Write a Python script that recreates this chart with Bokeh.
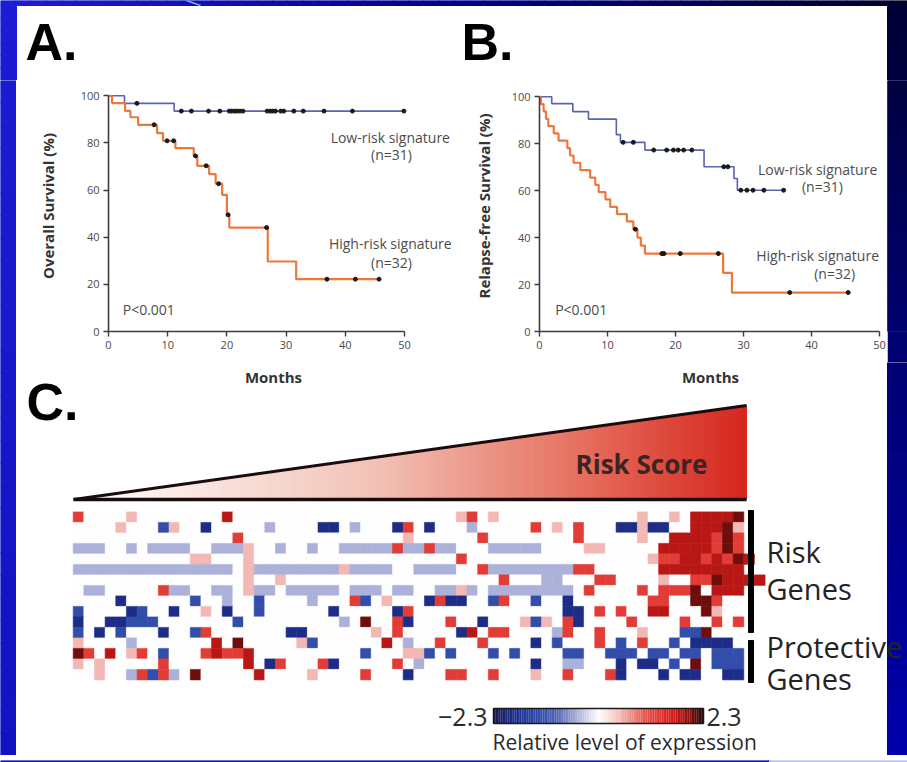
import numpy as np
from bokeh.plotting import figure
from bokeh.models import Range1d, FixedTicker, ColumnDataSource
from bokeh.layouts import row, column
from bokeh.embed import file_html
from bokeh.resources import INLINE
from bokeh.core.properties import value
from bokeh.transform import linear_cmap

# ---------------- data ----------------
month_ticks = [0, 10, 20, 30, 40, 50]
pct_ticks = [0, 20, 40, 60, 80, 100]

# Panel A: overall survival
a_low_t = [0, 2.7, 11.1, 49.9]
a_low_s = [100, 96.8, 93.5, 93.5]
a_low_cens = [4.8, 12.3, 14.0, 16.9, 18.8, 20.4, 20.8, 21.3, 21.7, 22.2, 22.7,
              26.8, 27.3, 27.7, 28.2, 29.1, 29.6, 31.3, 32.9, 36.4, 41.2, 49.9]
a_high_t = [0, 0.6, 2.8, 3.7, 5.0, 8.2, 9.2, 11.3, 14.4, 15.0, 17.0, 18.1, 19.2,
            20.0, 20.4, 26.9, 31.7, 45.7]
a_high_s = [100, 96.9, 93.6, 90.9, 87.7, 84.2, 80.9, 77.8, 74.5, 70.3, 66.8, 62.7,
            58.0, 49.5, 44.1, 29.7, 22.2, 22.2]
a_high_cens = [7.7, 9.9, 11.0, 14.7, 16.5, 18.6, 20.2, 26.7, 36.9, 41.7, 45.7]

# Panel B: relapse-free survival
b_low_t = [0, 1.8, 4.9, 7.2, 11.3, 11.9, 15.5, 24.2, 28.6, 29.1, 35.9]
b_low_s = [100, 97.1, 93.7, 90.5, 83.9, 80.6, 77.3, 70.2, 65.2, 60.2, 60.2]
b_low_cens = [12.3, 13.8, 16.8, 18.7, 19.7, 20.4, 21.2, 22.4, 27.1, 27.7,
              29.6, 30.5, 31.4, 33.0, 35.9]
b_high_t = [0, 0.2, 0.6, 0.95, 1.3, 2.1, 2.8, 4.1, 4.5, 5.0, 6.0, 7.45, 8.2, 8.7,
            9.7, 10.4, 11.4, 12.85, 13.8, 14.4, 14.9, 15.5, 27.0, 28.3, 45.4]
b_high_s = [100, 96.9, 93.8, 90.6, 87.5, 84.4, 81.3, 78.1, 75.0, 71.9, 68.8, 65.6,
            62.5, 59.4, 56.3, 53.1, 50.0, 46.9, 43.6, 40.0, 36.6, 33.2, 25.0, 16.6, 16.6]
b_high_cens = [14.1, 18.0, 18.3, 20.7, 26.3, 36.8, 45.4]

# Panel C: heatmap, 16 genes x 63 patients (B/b/l = blue levels, . = white,
# p/r/R/K = red levels)
heat_rows = [
    "r....p........R.....................pr.p.............p..p.RRRRK",
    "....p...bp..B.....l....BB.l...Br.B...l.....r.p.r...BBpBB..RRRKp",
    "...............r...............p......r........r.....p..RRRRrKr",
    "lll..l.llll..lllp..l..l..lllllrllrll...lllll....pp.....RRRRRrKr",
    "...........pp...p...................r.................prrRRrRrKR",
    "lllllllllllllll.pllllllllpllll..llll..rllllllllrr......RRRRRRRR",
    "................p..p....................r...ll...rr....p..rrKRRRR",
    ".ll.....rll..ll.pll.lllll.lll.ll..llpl.llllllll.r....r.rrrK.RRR",
    "....B......b..l..b....l...rb.p...BrBB..br..b..B.......rr..KKr..",
    "b....Bb..B..p.B..b......B.....Br..............BB.r.r..RR...Kp..",
    "B..BBbbb.......b.........l.K..rB...r..B...pbp.rB....r....r..r.r",
    "b.B.b...B..br.......BB......p.r.....BR.rr....lr..r...p...bbK...",
    "p....l.......R.K.....pb......R.l..r...r....B.b...r.b.r..b.BBBB.",
    "Kr.R.pr.b...rRrrR..........b...ppb.b...b.b....bb..bbb.bb.bb.bbb",
    "p.p.....r.......R.Br...rB.....r.l..........B..ll...B.BB.b.K.bbb",
    "..p..lrbrl.K.....R....p....r...B...rr..r...p..r...rB...B.BB..BB",
]
level_of = {"B": -1.9, "b": -1.3, "l": -0.45, ".": 0.0,
            "p": 0.5, "r": 1.3, "R": 1.8, "K": 2.1}
expr_low, expr_high = -2.3, 2.3

# ---------------- helpers ----------------
def hex2rgb(h):
    return tuple(int(h[i:i + 2], 16) for i in (1, 3, 5))

def blend(stops, t):
    for (p0, c0), (p1, c1) in zip(stops[:-1], stops[1:]):
        if t <= p1:
            u = 0 if p1 == p0 else (t - p0) / (p1 - p0)
            a, b = hex2rgb(c0), hex2rgb(c1)
            return "#%02x%02x%02x" % tuple(round(a[k] + (b[k] - a[k]) * u) for k in range(3))
    return stops[-1][1]

heat_stops = [(0.0, "#1a1a50"), (0.1, "#1e3090"), (0.2, "#2d48a8"), (0.3, "#5566b5"),
              (0.42, "#bcc0e0"), (0.5, "#ffffff"), (0.59, "#f5c6c4"),
              (0.72, "#e65a50"), (0.85, "#dc201c"), (0.93, "#9a1010"), (1.0, "#2a0808")]
palette = [blend(heat_stops, i / 255) for i in range(256)]

def step_level(ts, ss, c):
    i = int(np.searchsorted(ts, c, side="right")) - 1
    return ss[max(i, 0)]

FONT = "Open Sans"
AX = "#3c3c3c"

def plain(width, height, xr, yr, bg="white"):
    p = figure(width=width, height=height, x_range=Range1d(*xr), y_range=Range1d(*yr),
               output_backend="svg", toolbar_location=None, min_border=0,
               x_axis_type=None, y_axis_type=None, outline_line_color=None,
               background_fill_color=bg, border_fill_color=bg)
    p.grid.visible = False
    return p

def vgrad(p, left, right, top, bottom, colorfn, n=30):
    ys = np.linspace(top, bottom, n + 1)
    p.quad(left=left, right=right, top=ys[:-1], bottom=ys[1:],
           color=[colorfn((ys[i] + ys[i + 1]) / 2) for i in range(n)])

# slide background colours (functions of screen y)
right_stops = [(0.0, "#000034"), (0.45, "#000070"), (1.0, "#0000ae")]
left_stops = [(0.0, "#1c1cd4"), (1.0, "#1212c2")]
top_stops = [(0.0, "#1c1cd4"), (0.5, "#000090"), (1.0, "#00002c")]
right_color = lambda y: blend(right_stops, y / 762)
left_color = lambda y: blend(left_stops, y / 762)

def km_figure(width, left, x_end, y_end):
    p = figure(width=width, height=282, x_range=Range1d(0, x_end), y_range=Range1d(0, y_end),
               output_backend="svg", toolbar_location=None,
               min_border_left=left, min_border_right=0, min_border_top=0,
               min_border_bottom=31, background_fill_color="white",
               border_fill_color="white")
    p.grid.visible = False
    p.outline_line_color = None
    p.xaxis.ticker = FixedTicker(ticks=month_ticks)
    p.yaxis.ticker = FixedTicker(ticks=pct_ticks)
    p.xaxis.bounds = (0, 50)
    p.yaxis.bounds = (0, 100)
    p.axis.axis_line_color = AX
    p.axis.axis_line_width = 1.6
    p.axis.major_tick_line_color = AX
    p.axis.major_tick_line_width = 1.4
    p.axis.major_tick_in = 0
    p.axis.major_tick_out = 5
    p.axis.minor_tick_line_color = None
    p.axis.major_label_text_font = FONT
    p.axis.major_label_text_font_size = "11px"
    p.axis.major_label_text_color = "#4a4a4a"
    p.axis.major_label_standoff = 4
    p.axis.axis_label_text_font = FONT
    p.axis.axis_label_text_font_style = "bold"
    p.axis.axis_label_text_font_size = "15px"
    p.axis.axis_label_text_color = "#333333"
    return p

def km_curves(p, lt, ls, lc, ht, hs, hc):
    p.step(x=lt, y=ls, mode="after", line_color="#5864b0", line_width=1.6)
    p.step(x=ht, y=hs, mode="after", line_color="#ec783c", line_width=2.2)
    p.scatter(x=lc, y=[step_level(lt, ls, c) for c in lc], size=4, color="#1a1a1a")
    p.scatter(x=hc, y=[step_level(ht, hs, c) for c in hc], size=4, color="#1a1a1a")

def note(p, x, y, txt, align="center"):
    p.text(x=[x], y=[y], text=[txt], text_align=align, text_baseline="middle",
           text_font=value(FONT), text_font_size="14px", text_color="#4d4d4d")

def big_letter(p, x, y, txt):
    p.text(x=[x], y=[y], text=[txt], text_align="left", text_baseline="middle",
           text_font=value("Liberation Sans"), text_font_style="bold",
           text_font_size="52px", text_color="black")

# ---------------- top band with letters A., B. ----------------
pTop = plain(907, 80, (0, 907), (80, 0))
nt = 60
xs_t = np.linspace(0, 907, nt + 1)
pTop.quad(left=xs_t[:-1], right=xs_t[1:], top=0, bottom=5,
          color=[blend(top_stops, (i + 0.5) / nt) for i in range(nt)])
pTop.line(x=[186, 200], y=[0, 5], line_color="#7fa8ff", line_width=1.5)
vgrad(pTop, 0, 16, 5, 80, left_color, n=6)
vgrad(pTop, 887, 907, 5, 80, right_color, n=6)
big_letter(pTop, 25, 41, "A.")
big_letter(pTop, 461, 41, "B.")

pBot = plain(907, 7, (0, 907), (762, 755))
pBot.quad(left=0, right=769, top=755, bottom=762, color="#1515c0")
pBot.quad(left=769, right=907, top=755, bottom=762, color="#b8c2ee")

pL = plain(16, 675, (0, 16), (755, 80))
vgrad(pL, 0, 16, 80, 755, left_color)

# ---------------- panel A ----------------
pA = km_figure(442, 92, 59.12, 106.49)
pA.yaxis.axis_label = "Overall Survival (%)"
pA.yaxis.axis_label_standoff = 20
km_curves(pA, a_low_t, a_low_s, a_low_cens, a_high_t, a_high_s, a_high_cens)
note(pA, 47.6, 82.3, "Low-risk signature")
note(pA, 47.8, 75.1, "(n=31)")
note(pA, 47.6, 37.3, "High-risk signature")
note(pA, 47.8, 29.3, "(n=32)")
note(pA, 2.4, 9.3, "P<0.001", "left")

# ---------------- panel B ----------------
pB = km_figure(429, 81, 51.18, 106.95)
pB.yaxis.axis_label = "Relapse-free Survival (%)"
pB.yaxis.axis_label_standoff = 15
km_curves(pB, b_low_t, b_low_s, b_low_cens, b_high_t, b_high_s, b_high_cens)
note(pB, 40.9, 69.0, "Low-risk signature")
note(pB, 41.6, 61.8, "(n=31)")
note(pB, 40.9, 32.4, "High-risk signature")
note(pB, 43.4, 24.7, "(n=32)")
note(pB, 2.3, 9.4, "P<0.001", "left")

# right edge beside the survival plots
pR = plain(20, 282, (887, 907), (331, 80), bg=right_color(346))
vgrad(pR, 887, 907, 80, 331, right_color, n=15)

# ---------------- panel C ----------------
pC = plain(891, 393, (16, 907), (755, 362))
vgrad(pC, 887, 907, 362, 755, right_color)

# x-axis titles of the survival plots (sit in this strip of the page)
for xc in (273, 710):
    pC.text(x=[xc], y=[376], text=["Months"], text_align="center", text_baseline="middle",
            text_font=value(FONT), text_font_style="bold", text_font_size="15px",
            text_color="#333333")

big_letter(pC, 26, 401, "C.")

# risk-score wedge with gradient
tri_l, tri_r, tri_base, tri_top = 73, 746, 499, 405
wedge_stops = [(0.0, "#ffffff"), (0.45, "#f2c2b6"), (0.75, "#e6705f"), (1.0, "#d6261e")]
nw = 140
xs_w = np.linspace(tri_l, tri_r, nw + 1)
top_at = lambda x: tri_base - (tri_base - tri_top) * (x - tri_l) / (tri_r - tri_l)
pC.patches(xs=[[xs_w[i], xs_w[i + 1], xs_w[i + 1], xs_w[i]] for i in range(nw)],
           ys=[[tri_base, tri_base, top_at(xs_w[i + 1]), top_at(xs_w[i])] for i in range(nw)],
           color=[blend(wedge_stops, (i + 0.5) / nw) for i in range(nw)])
pC.line(x=[tri_l, tri_r], y=[tri_base, tri_top], line_color="#1a0c0c", line_width=3)
pC.line(x=[tri_l, tri_r], y=[tri_base, tri_base], line_color="#1a0c0c", line_width=3.5)
pC.text(x=[641], y=[463], text=["Risk Score"], text_align="center", text_baseline="middle",
        text_font=value(FONT), text_font_style="bold", text_font_size="26px",
        text_color="#3a2424")

# heatmap (own scales: column / row index)
heat_left, heat_right, heat_top, heat_bottom = 72.7, 743.3, 511.4, 679.4
ncol, nrow = len(heat_rows[0]), len(heat_rows)
cw = (heat_right - heat_left) / ncol
rh = (heat_bottom - heat_top) / nrow
pC.extra_x_ranges = {"hx": Range1d((16 - heat_left) / cw, (907 - heat_left) / cw)}
pC.extra_y_ranges = {"hy": Range1d((755 - heat_top) / rh, (362 - heat_top) / rh)}
hc, hr, hv = [], [], []
for r, s in enumerate(heat_rows):
    for c, ch in enumerate(s):
        hc.append(c + 0.5)
        hr.append(r + 0.5)
        hv.append(level_of[ch])
hsrc = ColumnDataSource(dict(col=hc, row=hr, val=hv))
cmap = linear_cmap("val", palette, expr_low, expr_high)
pC.rect(x="col", y="row", width=1, height=1, source=hsrc, fill_color=cmap,
        line_color=cmap, line_width=0.6, x_range_name="hx", y_range_name="hy")

# gene-group bars and labels
pC.quad(left=748, right=753, top=510, bottom=632, color="black")
pC.quad(left=748, right=753, top=640, bottom=682, color="black")
for txt, yc in (("Risk", 551), ("Genes", 588), ("Protective", 646), ("Genes", 678)):
    pC.text(x=[766], y=[yc], text=[txt], text_font=value(FONT), text_font_size="29px",
            text_color="#232323", text_baseline="middle")

# colour legend
cb_vals = list(np.linspace(expr_low, expr_high, 120))
cb_l, cb_r, cb_t, cb_b = 493, 703, 708, 723
cbw = (cb_r - cb_l) / len(cb_vals)
cbsrc = ColumnDataSource(dict(x=[cb_l + (i + 0.5) * cbw for i in range(len(cb_vals))], v=cb_vals))
ccm = linear_cmap("v", palette, expr_low, expr_high)
pC.rect(x="x", y=(cb_t + cb_b) / 2, width=cbw * 1.05, height=cb_b - cb_t, source=cbsrc,
        fill_color=ccm, line_color=None)
pC.quad(left=cb_l, right=cb_r, top=cb_t, bottom=cb_b, fill_color=None,
        line_color="#1a1a1a", line_width=1.5)
pC.text(x=[cb_l - 6], y=[716], text=["\u22122.3"], text_align="right", text_baseline="middle",
        text_font=value(FONT), text_font_size="25px", text_color="#2a2a2a")
pC.text(x=[cb_r + 3], y=[716], text=["2.3"], text_align="left", text_baseline="middle",
        text_font=value(FONT), text_font_size="25px", text_color="#2a2a2a")
pC.text(x=[492], y=[741], text=["Relative level of expression"], text_align="left",
        text_baseline="middle", text_font=value(FONT), text_font_size="21px",
        text_color="#2a2a2a")

layout = column(pTop,
                row(pL, column(row(pA, pB, pR), pC)),
                pBot)
open("out.html", "w").write(file_html(layout, INLINE))
